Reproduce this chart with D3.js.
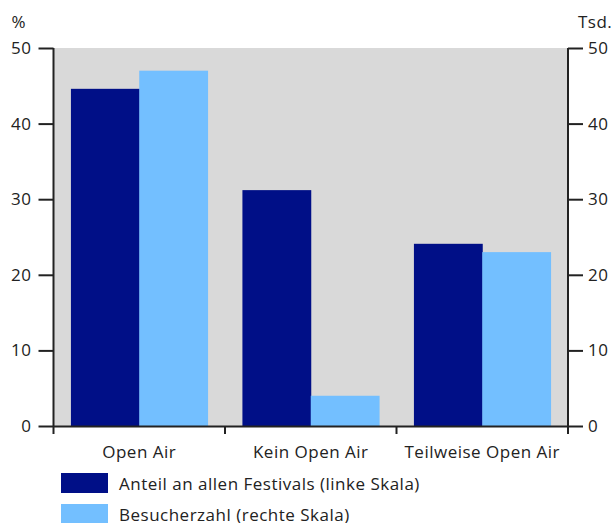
<!DOCTYPE html>
<html>
<head>
<meta charset="utf-8">
<script src="https://cdn.jsdelivr.net/npm/d3@7"></script>
<style>
  body { margin: 0; background: #fff; }
  svg text { font-family: "Open Sans", "DejaVu Sans", sans-serif; fill: #222; }
</style>
</head>
<body>
<div id="chart"></div>
<script>
var categories = ["Open Air", "Kein Open Air", "Teilweise Open Air"];
var seriesNames = ["Anteil an allen Festivals (linke Skala)", "Besucherzahl (rechte Skala)"];
var shareValues = [44.6, 31.2, 24.1];   // % (left scale)
var visitorValues = [47, 4, 23];        // Tsd. (right scale)
var yTicks = [0, 10, 20, 30, 40, 50];
var colors = ["#000f87", "#73bfff"];

var fontFamily = "'Open Sans', 'DejaVu Sans', sans-serif",
    fontSize = 17,
    spacing = 0.5;

var margin = {top: 48, right: 48, bottom: 97, left: 53.5},
    width = 616 - margin.left - margin.right,
    height = 523 - margin.top - margin.bottom;

var svg = d3.select("#chart")
    .append("svg")
        .attr("width", 616)
        .attr("height", 523)
    .append("g")
        .attr("transform", "translate(" + margin.left + "," + margin.top + ")");

var x0 = d3.scaleBand()
        .domain(categories)
        .range([0, width])
        .padding(0);

var x1 = d3.scaleBand()
        .domain([0, 1])
        .range([0, x0.bandwidth()])
        .paddingInner(0)
        .paddingOuter(0.255);

var yLeft = d3.scaleLinear()
        .domain([0, 50])
        .range([height, 0]);

var yRight = d3.scaleLinear()
        .domain([0, 50])
        .range([height, 0]);

svg.append("rect")
    .attr("width", width)
    .attr("height", height)
    .attr("fill", "#d9d9d9");

var data = categories.map(function(c, i) {
    return {cat: c, values: [shareValues[i], visitorValues[i]]};
});

var groups = svg.selectAll(".group")
    .data(data)
    .enter().append("g")
        .attr("class", "group")
        .attr("transform", function(d) { return "translate(" + x0(d.cat) + ",0)"; });

groups.selectAll("rect")
    .data(function(d) { return d.values; })
    .enter().append("rect")
        .attr("x", function(d, i) { return x1(i); })
        .attr("width", x1.bandwidth() + 0.5)
        .attr("y", function(d, i) { return i === 0 ? yLeft(d) : yRight(d); })
        .attr("height", function(d, i) { return height - (i === 0 ? yLeft(d) : yRight(d)); })
        .attr("fill", function(d, i) { return colors[i]; });

// axes
svg.append("g")
    .attr("class", "y-axis")
    .call(d3.axisLeft(yLeft).tickValues(yTicks).tickSize(15).tickPadding(7));

svg.append("g")
    .attr("class", "y-axis")
    .attr("transform", "translate(" + width + ",0)")
    .call(d3.axisRight(yRight).tickValues(yTicks).tickSize(15).tickPadding(5));

svg.append("g")
    .attr("class", "x-axis")
    .attr("transform", "translate(0," + height + ")")
    .call(d3.axisBottom(x0).tickSize(0).tickPadding(20));

// category boundary ticks
var bounds = categories.map(function(c) { return x0(c); }).concat([width]);
svg.append("g")
    .selectAll("line")
    .data(bounds)
    .enter().append("line")
        .attr("x1", function(d) { return d; })
        .attr("x2", function(d) { return d; })
        .attr("y1", height)
        .attr("y2", height + 8)
        .attr("stroke", "#222")
        .attr("stroke-width", 2);

svg.selectAll(".domain").attr("stroke", "#222").attr("stroke-width", 2);
svg.selectAll(".y-axis .tick line").attr("stroke", "#222").attr("stroke-width", 2);
svg.selectAll(".y-axis .domain").attr("d", "M0,0V" + height);

// unit labels
svg.append("text").attr("x", -42).attr("y", -20).text("%");
svg.append("text").attr("x", width + 10).attr("y", -20).text("Tsd.");

// legend
var legend = svg.append("g")
    .attr("transform", "translate(" + (61 - margin.left) + "," + (height + 47) + ")");

var items = legend.selectAll("g")
    .data(seriesNames)
    .enter().append("g")
        .attr("transform", function(d, i) { return "translate(0," + (i * 31) + ")"; });

items.append("rect")
    .attr("width", 47)
    .attr("height", 20)
    .attr("fill", function(d, i) { return colors[i]; });

items.append("text")
    .attr("x", 58)
    .attr("y", 17)
    .text(function(d) { return d; });

svg.selectAll("text")
    .attr("font-size", fontSize)
    .attr("font-family", fontFamily)
    .attr("letter-spacing", spacing)
    .attr("fill", "#222");
</script>
</body>
</html>
